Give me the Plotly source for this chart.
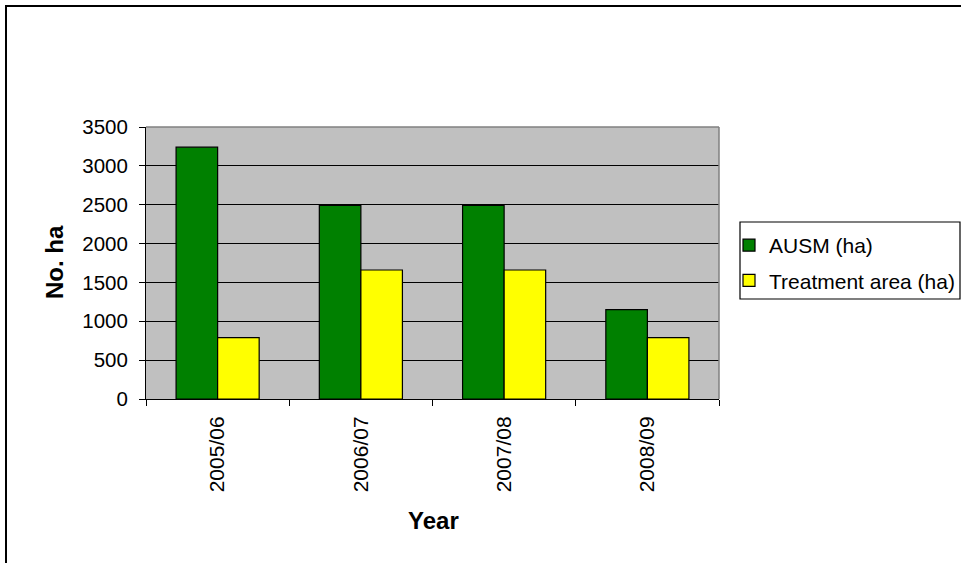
import plotly.graph_objects as go

# Seasons and areas (hectares)
years = ["2005/06", "2006/07", "2007/08", "2008/09"]
ausm_ha = [3240, 2490, 2490, 1150]
treatment_ha = [790, 1660, 1660, 790]

W, H = 961, 563
L, R, T, B = 146, 719, 127, 399  # plot area in pixels


def px(x):
    return (x - L) / (R - L)


def py(y):
    return (B - y) / (B - T)


fig = go.Figure()
fig.add_trace(go.Bar(
    x=years, y=ausm_ha, name="AUSM (ha)", legendgroup="a",
    marker=dict(color="#008000", line=dict(color="black", width=1.2)),
))
fig.add_trace(go.Bar(
    x=years, y=treatment_ha, name="Treatment area (ha)", legendgroup="b",
    marker=dict(color="#FFFF00", line=dict(color="black", width=1.2)),
))

fig.update_layout(
    width=W, height=H,
    margin=dict(l=L, r=W - R, t=T, b=H - B, pad=0, autoexpand=False),
    paper_bgcolor="white",
    plot_bgcolor="#C0C0C0",
    font=dict(family="Arial, Liberation Sans", color="black"),
    barmode="group",
    bargap=0.42,
    bargroupgap=0,
    showlegend=True,
    legend=dict(
        x=px(729), y=py(225), xanchor="left", yanchor="top",
        xref="paper", yref="paper",
        font=dict(size=21, family="Arial, Liberation Sans"),
        bgcolor="rgba(0,0,0,0)", borderwidth=0,
        tracegroupgap=5,
    ),
)

fig.update_xaxes(
    type="category",
    showline=True, linecolor="black", linewidth=1,
    ticks="outside", ticklen=6, tickcolor="black", tickwidth=1,
    tickson="boundaries",
    tickangle=-90,
    tickfont=dict(size=21),
    ticklabelstandoff=8,
    showgrid=False,
)
fig.update_yaxes(
    range=[0, 3500], dtick=500,
    showline=True, linecolor="black", linewidth=1,
    ticks="outside", ticklen=6, tickcolor="black", tickwidth=1,
    tickfont=dict(size=20.5),
    ticklabelstandoff=7,
    showgrid=True, gridcolor="black", gridwidth=1.2,
    zeroline=False,
)

# Axis titles
fig.add_annotation(text="<b>Year</b>", xref="paper", yref="paper",
                   x=px(433), y=py(520), showarrow=False,
                   xanchor="center", yanchor="middle", font=dict(size=24))
fig.add_annotation(text="<b>No. ha</b>", xref="paper", yref="paper",
                   x=px(54), y=py(262), showarrow=False, textangle=-90,
                   xanchor="center", yanchor="middle", font=dict(size=24))

# Gray frame on the top and right sides of the plot area
fig.add_shape(type="line", xref="paper", yref="paper", x0=0, x1=1, y0=1, y1=1,
              line=dict(color="#808080", width=1.5), layer="above")
fig.add_shape(type="line", xref="paper", yref="paper", x0=1, x1=1, y0=0, y1=1,
              line=dict(color="#808080", width=1.5), layer="above")

# Legend frame
fig.add_shape(type="rect", xref="paper", yref="paper",
              x0=px(740), x1=px(960), y0=py(222), y1=py(299),
              line=dict(color="black", width=1.2), fillcolor="rgba(0,0,0,0)")

# Outer chart border
fig.add_shape(type="rect", xref="paper", yref="paper",
              x0=px(6), x1=px(975), y0=py(6), y1=py(580),
              line=dict(color="black", width=2), fillcolor="rgba(0,0,0,0)")

fig.write_html("out.html")
